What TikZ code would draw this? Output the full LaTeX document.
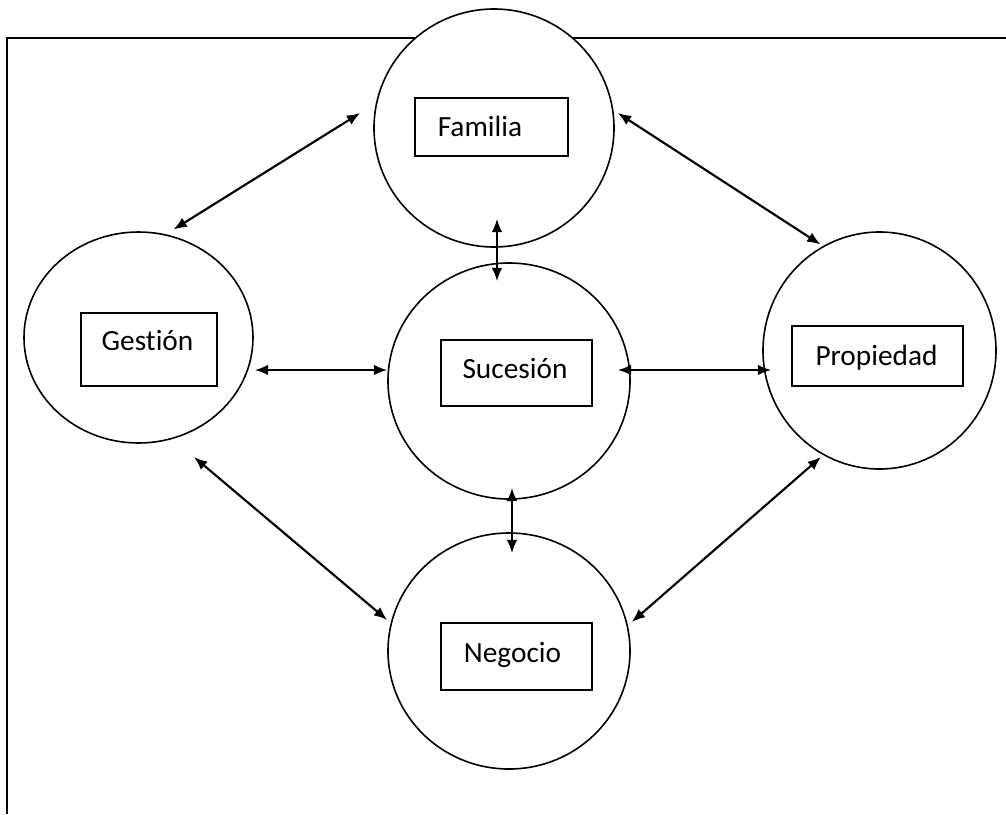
\documentclass[tikz,border=0pt]{standalone}
\usepackage{fontspec}
\setmainfont[Ligatures=NoCommon]{Carlito}
\usetikzlibrary{shapes.geometric,arrows.meta}
\tikzset{
	ring/.style={draw,ellipse,fill=white,line width=1.2pt,inner sep=0pt},
	tag/.style={draw,rectangle,line width=1.1pt,inner sep=0pt},
	lbl/.style={anchor=base,inner sep=0pt,font=\fontsize{22}{26}\selectfont},
	link/.style={<->,>={Latex[length=10pt,width=8pt]},line width=1.6pt}
}
\begin{document}
\begin{tikzpicture}[x=0.75pt,y=-0.75pt]
			\useasboundingbox(0,0)rectangle(1006,814);
			\draw[line width=1.5pt](1006,38)--(7,38)--(7,814);
			\node[ring,minimum width=180pt,minimum height=178.5pt](fam)at(494,128){};
			\node[ring,minimum width=171.75pt,minimum height=158.25pt](ges)at(138.5,337.5){};
			\node[ring,minimum width=181.5pt,minimum height=177pt](suc)at(509,381){};
			\node[ring,minimum width=174.75pt,minimum height=177.75pt](prop)at(879.5,350.5){};
			\node[ring,minimum width=181.5pt,minimum height=177pt](neg)at(509,651){};
			\node[tag,minimum width=114.75pt,minimum height=43.5pt](bfam)at(491.5,127){};
			\node[tag,minimum width=102pt,minimum height=54.75pt](bges)at(149,349.5){};
			\node[tag,minimum width=113.25pt,minimum height=49.5pt](bsuc)at(516.5,373){};
			\node[tag,minimum width=128.25pt,minimum height=45pt](bprop)at(877.5,356){};
			\node[tag,minimum width=113.25pt,minimum height=50.25pt](bneg)at(516.5,656.5){};
			\node[lbl](tfam)at(480,136){Familia};
			\node[lbl](tges)at(147.5,350){Gestión};
			\node[lbl](tsuc)at(515,378){Sucesión};
			\node[lbl](tprop)at(876.5,365.5){Propiedad};
			\node[lbl](tneg)at(512.5,662){Negocio};
			\draw[link]([shift={(35,-108)}]ges.center)--([shift={(-13,-15)}]fam.west);
			\draw[link]([shift={(3,-15)}]fam.east)--([shift={(-59,-106)}]prop.center);
			\draw[link]([shift={(3,-29)}]fam.south)--([shift={(-12,19)}]suc.north);
			\draw[link]([shift={(1,32.5)}]ges.east)--([shift={(0,-11)}]suc.west);
			\draw[link]([shift={(-13,-11)}]suc.east)--([shift={(9,19.5)}]prop.west);
			\draw[link]([shift={(3,-12)}]suc.south)--([shift={(3,21)}]neg.north);
			\draw[link]([shift={(55.5,119.5)}]ges.center)--([shift={(0,-31)}]neg.west);
			\draw[link]([shift={(-58.5,106.5)}]prop.center)--([shift={(1,-29)}]neg.east);
		\end{tikzpicture}
\end{document}
